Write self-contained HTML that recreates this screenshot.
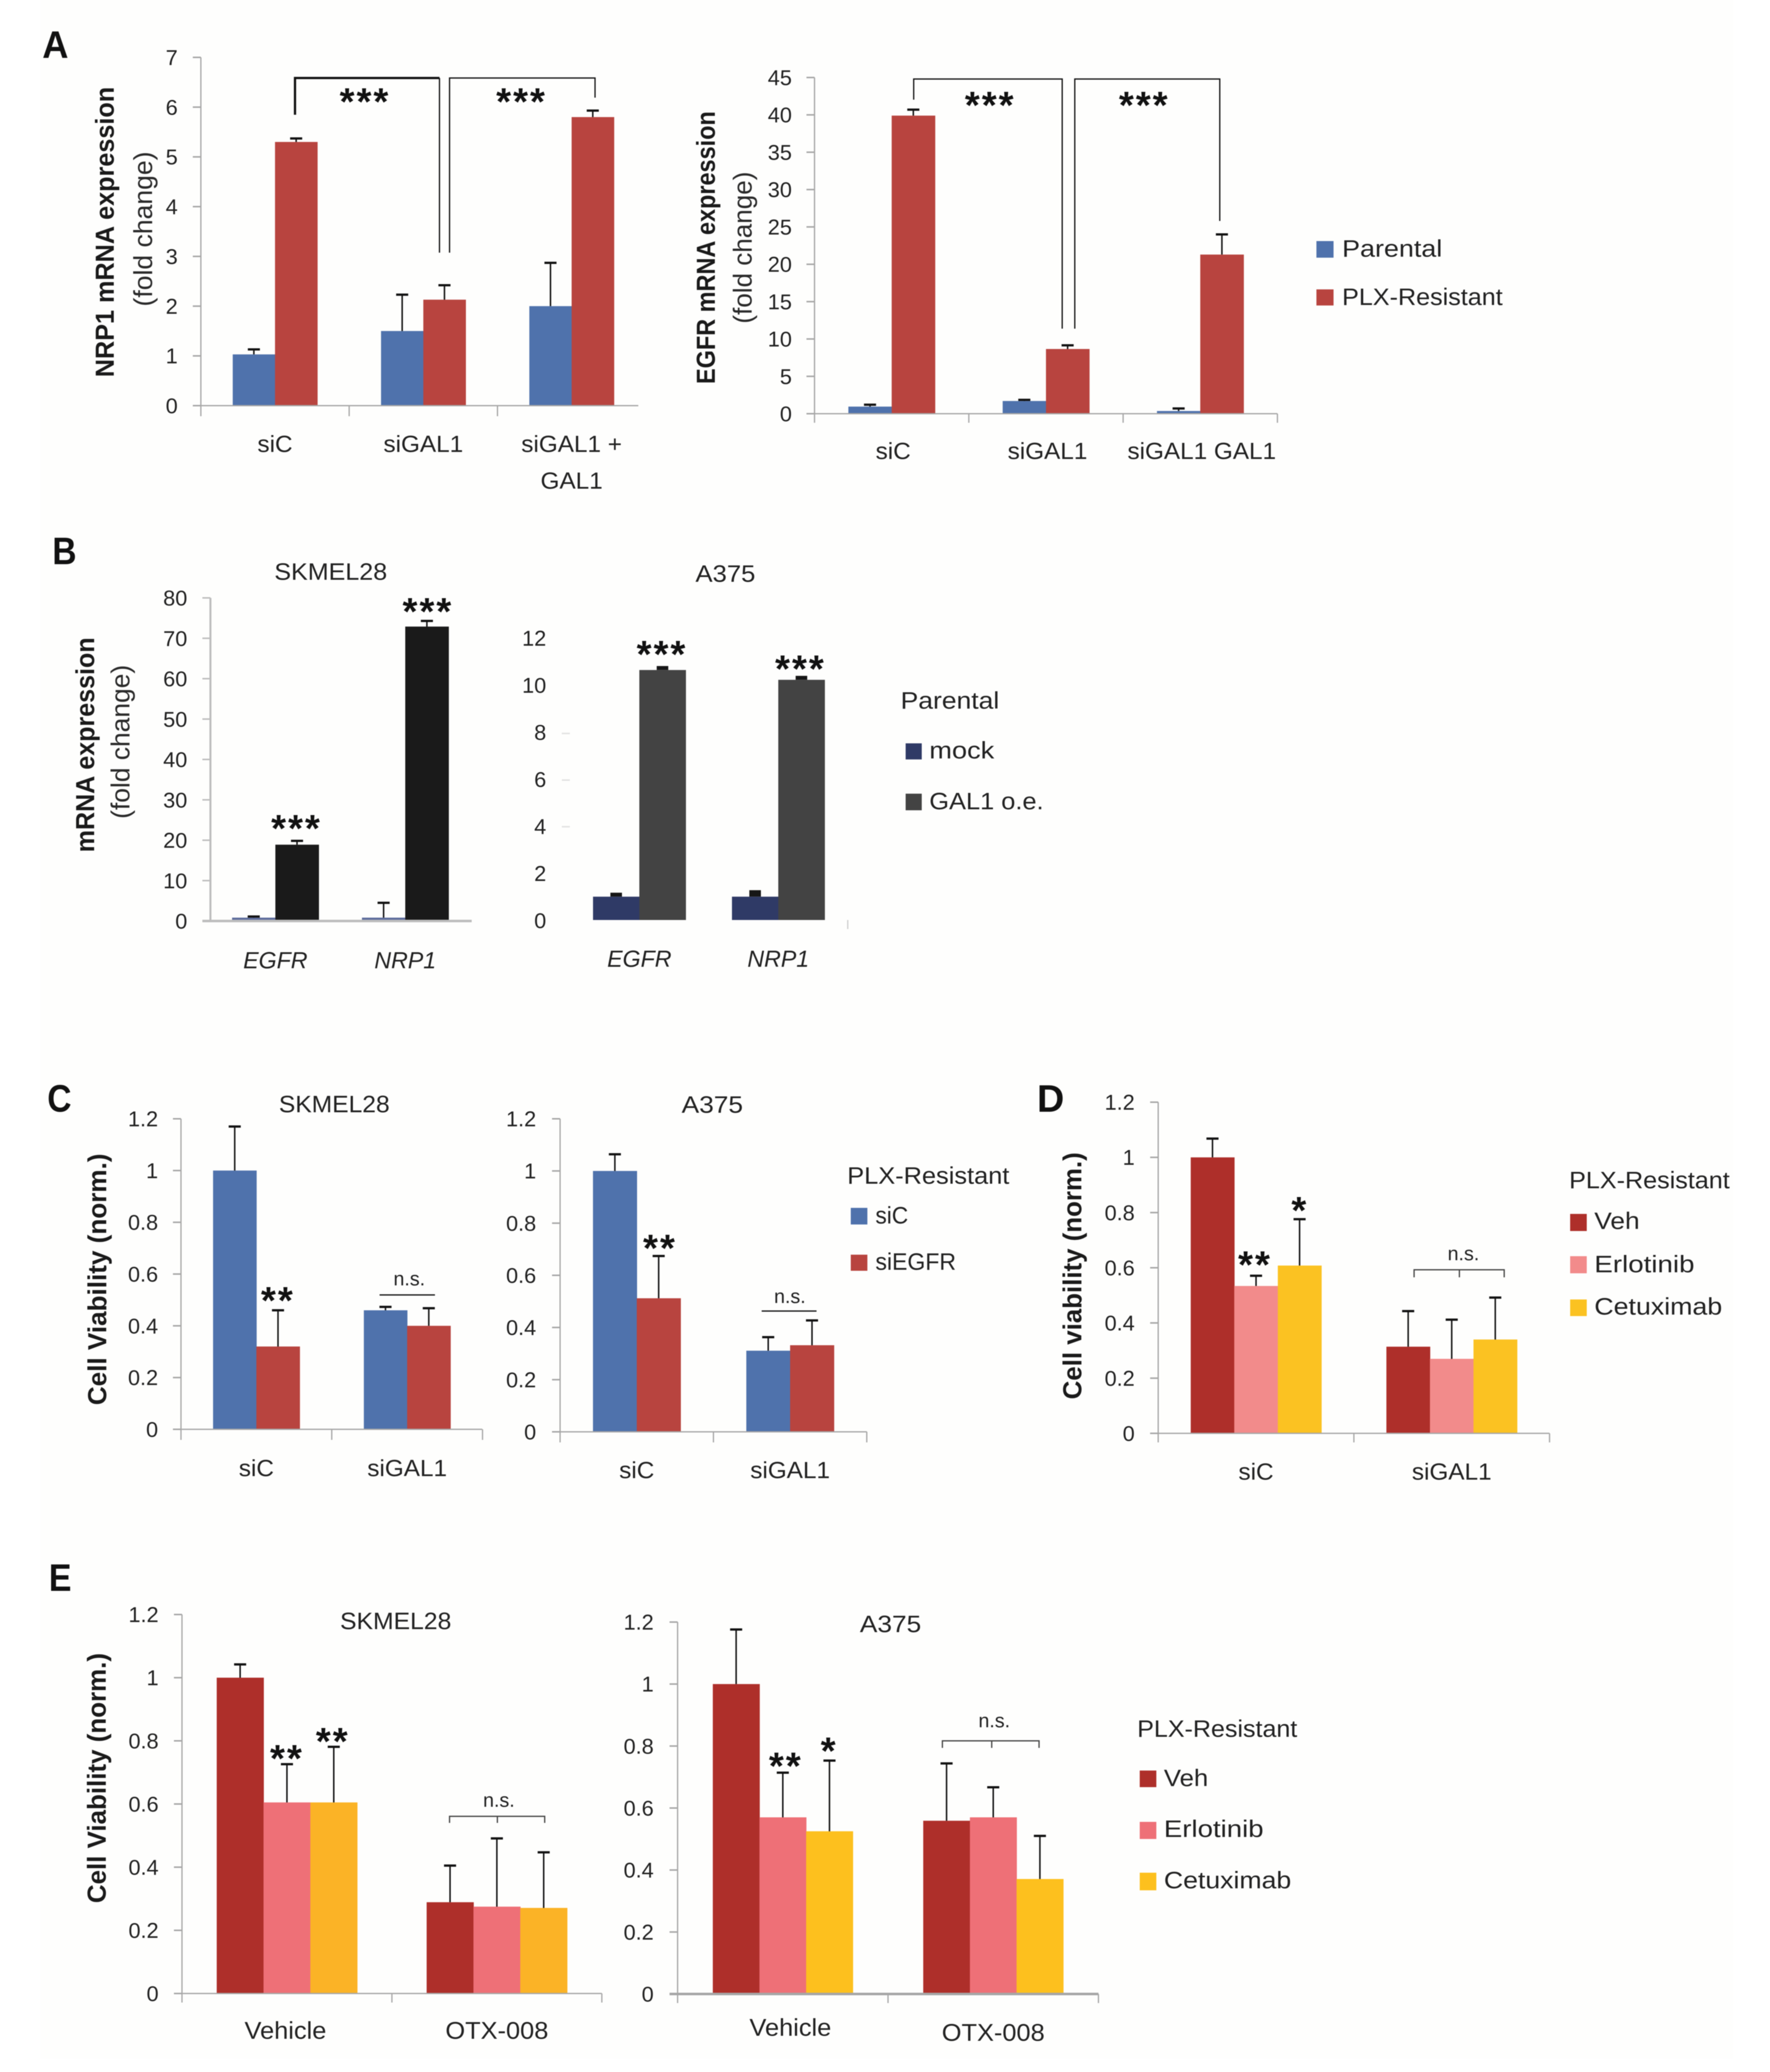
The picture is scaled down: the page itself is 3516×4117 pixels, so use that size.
<!DOCTYPE html>
<html lang="en">
<head>
<meta charset="utf-8">
<title>Cell viability and mRNA expression panels</title>
<style>
html,body{margin:0;padding:0;background:#ffffff;}
svg{display:block;filter:blur(0.9px);}
text{font-family:"Liberation Sans",sans-serif;fill:#222;}
.letter{font-size:76px;font-weight:bold;fill:#111;}
.yb{font-size:52px;font-weight:bold;fill:#1a1a1a;text-anchor:middle;}
.yn{font-size:52px;text-anchor:middle;fill:#2a2a2a;}
.title{font-size:47px;text-anchor:middle;}
.leg{font-size:47px;}
.star{font-size:76px;font-weight:bold;text-anchor:middle;fill:#111;letter-spacing:4px;}
.ns{font-size:39px;text-anchor:middle;}
.br{fill:none;stroke:#111;stroke-width:2.5;}
.brg{fill:none;stroke:#444;stroke-width:2.5;}
</style>
</head>
<body>
<svg id="fig" xmlns="http://www.w3.org/2000/svg" width="3516" height="4117" viewBox="0 0 3516 4117">
<rect x="0" y="0" width="3516" height="4117" fill="#ffffff"/>
<rect x="80" y="0" width="3363" height="4091" fill="#fefefd"/>

<!-- Panel letters -->
<text class="letter" x="84" y="115" textLength="52" lengthAdjust="spacingAndGlyphs">A</text>
<text class="letter" x="104" y="1121" textLength="48" lengthAdjust="spacingAndGlyphs">B</text>
<text class="letter" x="94" y="2209" textLength="48" lengthAdjust="spacingAndGlyphs">C</text>
<text class="letter" x="2060" y="2209" textLength="54" lengthAdjust="spacingAndGlyphs">D</text>
<text class="letter" x="97" y="3161" textLength="45" lengthAdjust="spacingAndGlyphs">E</text>

<!-- Y axis titles -->
<text class="yb" transform="translate(226,461) rotate(-90)" textLength="577" lengthAdjust="spacingAndGlyphs">NRP1 mRNA expression</text>
<text class="yn" transform="translate(302,455) rotate(-90)" textLength="308" lengthAdjust="spacingAndGlyphs">(fold change)</text>
<text class="yb" transform="translate(1420,492) rotate(-90)" textLength="542" lengthAdjust="spacingAndGlyphs">EGFR mRNA expression</text>
<text class="yn" transform="translate(1493,492) rotate(-90)" textLength="302" lengthAdjust="spacingAndGlyphs">(fold change)</text>
<text class="yb" transform="translate(187,1480) rotate(-90)" textLength="427" lengthAdjust="spacingAndGlyphs">mRNA expression</text>
<text class="yn" transform="translate(257,1474) rotate(-90)" textLength="306" lengthAdjust="spacingAndGlyphs">(fold change)</text>
<text class="yb" transform="translate(211,2542) rotate(-90)" textLength="500" lengthAdjust="spacingAndGlyphs">Cell Viability (norm.)</text>
<text class="yb" transform="translate(2148,2535) rotate(-90)" textLength="491" lengthAdjust="spacingAndGlyphs">Cell viability (norm.)</text>
<text class="yb" transform="translate(210,3533) rotate(-90)" textLength="497" lengthAdjust="spacingAndGlyphs">Cell Viability (norm.)</text>

<!-- Chart titles -->
<text class="title" x="657" y="1152" textLength="224" lengthAdjust="spacingAndGlyphs">SKMEL28</text>
<text class="title" x="1441" y="1156" textLength="119" lengthAdjust="spacingAndGlyphs">A375</text>
<text class="title" x="664" y="2210" textLength="220" lengthAdjust="spacingAndGlyphs">SKMEL28</text>
<text class="title" x="1415" y="2211" textLength="122" lengthAdjust="spacingAndGlyphs">A375</text>
<text class="title" x="786" y="3237" textLength="221" lengthAdjust="spacingAndGlyphs">SKMEL28</text>
<text class="title" x="1769" y="3243" textLength="122" lengthAdjust="spacingAndGlyphs">A375</text>

<g id="marks"></g>

<!-- Significance brackets panel A -->
<path class="br" style="stroke-width:4.5" d="M586 228V155H873"/>
<path class="br" d="M873 155V502"/>
<path class="br" d="M893 502V155H1182V194"/>
<text class="star" x="725" y="228">***</text>
<text class="star" x="1036" y="228">***</text>
<path class="br" d="M1815 198V157H2110V653"/>
<path class="br" d="M2135 653V157H2423V439"/>
<text class="star" x="1967" y="235">***</text>
<text class="star" x="2273" y="235">***</text>

<!-- Panel B stars -->
<text class="star" x="589" y="1672">***</text>
<text class="star" x="850" y="1241">***</text>
<text class="star" x="1315" y="1326">***</text>
<text class="star" x="1590" y="1355">***</text>

<!-- Panel C annotations -->
<text class="star" x="552" y="2610">**</text>
<text class="ns" x="813" y="2554">n.s.</text>
<path class="br" d="M754 2573H864"/>
<text class="star" x="1311" y="2506">**</text>
<text class="ns" x="1569" y="2589">n.s.</text>
<path class="br" d="M1513 2605H1622"/>

<!-- Panel D annotations -->
<text class="star" x="2493" y="2539">**</text>
<text class="star" x="2582" y="2431">*</text>
<text class="ns" x="2907" y="2504">n.s.</text>
<path class="brg" d="M2809 2538V2523H2988V2538M2899 2523V2538"/>

<!-- Panel E annotations -->
<text class="star" x="570" y="3520">**</text>
<text class="star" x="661" y="3486">**</text>
<text class="ns" x="991" y="3590">n.s.</text>
<path class="brg" d="M893 3622V3609H1082V3622M988 3609V3622"/>
<text class="star" x="1561" y="3535">**</text>
<text class="star" x="1647" y="3505">*</text>
<text class="ns" x="1975" y="3432">n.s.</text>
<path class="brg" d="M1872 3473V3459H2064V3473M1970 3459V3473"/>

<!-- Legends -->
<g>
<rect x="2615" y="479" width="34" height="33" fill="#4f72ac"/>
<text class="leg" x="2666" y="510" textLength="199" lengthAdjust="spacingAndGlyphs">Parental</text>
<rect x="2615" y="575" width="34" height="32" fill="#b8443f"/>
<text class="leg" x="2666" y="606" textLength="319" lengthAdjust="spacingAndGlyphs">PLX-Resistant</text>
</g>
<g>
<text class="leg" x="1789" y="1408" textLength="196" lengthAdjust="spacingAndGlyphs">Parental</text>
<rect x="1799" y="1477" width="32" height="32" fill="#2f3a66"/>
<text class="leg" x="1846" y="1507" textLength="129" lengthAdjust="spacingAndGlyphs">mock</text>
<rect x="1799" y="1577" width="32" height="33" fill="#434343"/>
<text class="leg" x="1846" y="1608" textLength="227" lengthAdjust="spacingAndGlyphs">GAL1 o.e.</text>
</g>
<g>
<text class="leg" x="1683" y="2352" textLength="322" lengthAdjust="spacingAndGlyphs">PLX-Resistant</text>
<rect x="1690" y="2400" width="33" height="33" fill="#4f72ac"/>
<text class="leg" x="1739" y="2431" textLength="65" lengthAdjust="spacingAndGlyphs">siC</text>
<rect x="1690" y="2493" width="33" height="32" fill="#b8443f"/>
<text class="leg" x="1739" y="2523" textLength="160" lengthAdjust="spacingAndGlyphs">siEGFR</text>
</g>
<g>
<text class="leg" x="3117" y="2361" textLength="319" lengthAdjust="spacingAndGlyphs">PLX-Resistant</text>
<rect x="3119" y="2412" width="33" height="34" fill="#ae2f2a"/>
<text class="leg" x="3167" y="2442" textLength="90" lengthAdjust="spacingAndGlyphs">Veh</text>
<rect x="3119" y="2496" width="33" height="34" fill="#f28b8b"/>
<text class="leg" x="3167" y="2528" textLength="199" lengthAdjust="spacingAndGlyphs">Erlotinib</text>
<rect x="3119" y="2582" width="33" height="33" fill="#fbc222"/>
<text class="leg" x="3167" y="2612" textLength="254" lengthAdjust="spacingAndGlyphs">Cetuximab</text>
</g>
<g>
<text class="leg" x="2259" y="3451" textLength="318" lengthAdjust="spacingAndGlyphs">PLX-Resistant</text>
<rect x="2264" y="3518" width="33" height="33" fill="#ae2f2a"/>
<text class="leg" x="2312" y="3549" textLength="88" lengthAdjust="spacingAndGlyphs">Veh</text>
<rect x="2264" y="3620" width="33" height="34" fill="#ee7077"/>
<text class="leg" x="2312" y="3650" textLength="198" lengthAdjust="spacingAndGlyphs">Erlotinib</text>
<rect x="2264" y="3721" width="33" height="35" fill="#fdc01e"/>
<text class="leg" x="2312" y="3752" textLength="253" lengthAdjust="spacingAndGlyphs">Cetuximab</text>
</g>
</svg>

<script>
// Panel A, NRP1
const a1Categories = ['siC', 'siGAL1', 'siGAL1 +\nGAL1'];
const a1Ticks = ['0', '1', '2', '3', '4', '5', '6', '7'];
const a1Parental = [1.03, 1.5, 2.0];
const a1ParentalErr = [0.10, 0.73, 0.87];
const a1Resistant = [5.3, 2.13, 5.8];
const a1ResistantErr = [0.07, 0.29, 0.13];
// Panel A, EGFR
const a2Categories = ['siC', 'siGAL1', 'siGAL1 GAL1'];
const a2Ticks = ['0', '5', '10', '15', '20', '25', '30', '35', '40', '45'];
const a2Parental = [0.95, 1.7, 0.36];
const a2ParentalErr = [0.25, 0.15, 0.34];
const a2Resistant = [39.9, 8.66, 21.3];
const a2ResistantErr = [0.8, 0.49, 2.7];
// Panel B, SKMEL28
const b1Categories = ['EGFR', 'NRP1'];
const b1Ticks = ['0', '10', '20', '30', '40', '50', '60', '70', '80'];
const b1Mock = [0.83, 0.83];
const b1MockErr = [0.27, 3.67];
const b1Gal = [18.9, 72.9];
const b1GalErr = [0.95, 1.4];
// Panel B, A375
const b2Categories = ['EGFR', 'NRP1'];
const b2Ticks = ['0', '2', '4', '6', '8', '10', '12'];
const b2Mock = [1, 1];
const b2MockErr = [0.17, 0.28];
const b2Gal = [10.72, 10.3];
const b2GalErr = [0.17, 0.17];
// Panel C, SKMEL28
const c1Categories = ['siC', 'siGAL1'];
const c1Ticks = ['0', '0.2', '0.4', '0.6', '0.8', '1', '1.2'];
const c1SiC = [1, 0.46];
const c1SiCErr = [0.17, 0.013];
const c1SiEGFR = [0.32, 0.4];
const c1SiEGFRErr = [0.14, 0.068];
// Panel C, A375
const c2Categories = ['siC', 'siGAL1'];
const c2Ticks = ['0', '0.2', '0.4', '0.6', '0.8', '1', '1.2'];
const c2SiC = [1, 0.311];
const c2SiCErr = [0.064, 0.052];
const c2SiEGFR = [0.512, 0.332];
const c2SiEGFRErr = [0.162, 0.095];
// Panel D
const dCategories = ['siC', 'siGAL1'];
const dTicks = ['0', '0.2', '0.4', '0.6', '0.8', '1', '1.2'];
const dVeh = [1, 0.314];
const dVehErr = [0.068, 0.129];
const dErl = [0.534, 0.27];
const dErlErr = [0.037, 0.142];
const dCet = [0.608, 0.34];
const dCetErr = [0.168, 0.152];
// Panel E, SKMEL28
const e1Categories = ['Vehicle', 'OTX-008'];
const e1Ticks = ['0', '0.2', '0.4', '0.6', '0.8', '1', '1.2'];
const e1Veh = [1, 0.289];
const e1VehErr = [0.042, 0.116];
const e1Erl = [0.605, 0.275];
const e1ErlErr = [0.121, 0.216];
const e1Cet = [0.605, 0.271];
const e1CetErr = [0.176, 0.176];
// Panel E, A375
const e2Categories = ['Vehicle', 'OTX-008'];
const e2Ticks = ['0', '0.2', '0.4', '0.6', '0.8', '1', '1.2'];
const e2Veh = [1, 0.559];
const e2VehErr = [0.176, 0.185];
const e2Erl = [0.57, 0.57];
const e2ErlErr = [0.144, 0.097];
const e2Cet = [0.525, 0.371];
const e2CetErr = [0.228, 0.139];

const NS = 'http://www.w3.org/2000/svg';

function make(parent, tag, name, props) {
  const el = document.createElementNS(NS, tag);
  
  
  for (const k in props) el.setAttribute(k, props[k]);
  parent.appendChild(el);
  return el;
}

function line(parent, name, x1, y1, x2, y2, color, width) {
  return make(parent, 'line', name, {x1: x1, y1: y1, x2: x2, y2: y2, stroke: color, 'stroke-width': width});
}

function drawChart(cfg, categories, ticks, series) {
  const root = document.getElementById('marks');
  const g = make(root, 'g', cfg.id + '-chart', {});
  const maxV = parseFloat(ticks[ticks.length - 1]);
  const yPos = function (v) { return cfg.y0 - v / maxV * (cfg.y0 - cfg.yTop); };
  const labY0 = cfg.labelY0 || cfg.y0;
  const labTop = cfg.labelTop || cfg.yTop;
  const labelPos = function (v) { return labY0 - v / maxV * (labY0 - labTop); };
  const groupX = function (i) { return cfg.x0 + cfg.band * (i + 0.5); };
  const axisColor = cfg.axisColor || '#a6a6a6';
  const tickColor = cfg.tickColor || axisColor;
  const tickLen = 16;
  const catSize = cfg.catSize || 46;
  const catScale = cfg.catScale || 1.05;

  if (!cfg.hideAxes) {
    line(g, cfg.id + '-y-axis', cfg.x0, cfg.yTop, cfg.x0, cfg.y0, axisColor, cfg.yAxisWidth || 2.5);
  }

  ticks.forEach(function (t) {
    const v = parseFloat(t);
    const y = yPos(v);
    const showMark = !cfg.hideAxes || (cfg.faintTicks && cfg.faintTicks.indexOf(t) >= 0);
    if (showMark) {
      line(g, cfg.id + '-y-tick', cfg.x0 - tickLen, y, cfg.x0, y, tickColor, 3);
    }
    const lab = make(g, 'text', cfg.id + '-y-tick-label', {
      'text-anchor': 'end',
      'font-size': 43,
      x: cfg.tickRight,
      y: labelPos(v) + 15
    });
    lab.textContent = t;
  });

  series.forEach(function (s, j) {
    s.values.forEach(function (v, i) {
      const x = groupX(i) - series.length * cfg.barW / 2 + j * cfg.barW;
      const y = yPos(v);
      make(g, 'rect', cfg.id + '-bar', {x: x, y: y, width: cfg.barW + 0.6, height: cfg.y0 - y, fill: s.color});
    });
  });

  if (!cfg.hideAxes) {
    line(g, cfg.id + '-x-axis', cfg.x0 - tickLen, cfg.y0, cfg.xEnd, cfg.y0, axisColor, cfg.xAxisWidth || 2.5);
  }
  if (cfg.xTickBottom) {
    for (let i = 0; i <= categories.length; i++) {
      const tx = cfg.x0 + cfg.band * i;
      if (tx <= cfg.xEnd + 1 && (!cfg.endTickOnly || i === categories.length)) {
        line(g, cfg.id + '-x-tick', tx, cfg.y0, tx, cfg.xTickBottom, axisColor, 2.5);
      }
    }
  }

  series.forEach(function (s, j) {
    s.values.forEach(function (v, i) {
      const cx = groupX(i) - series.length * cfg.barW / 2 + (j + 0.5) * cfg.barW;
      const top = yPos(v + s.errs[i]);
      const bottom = yPos(v);
      line(g, cfg.id + '-error-stem', cx, bottom, cx, top, '#161616', cfg.errStem || 3);
      if (!cfg.errStem) {
        line(g, cfg.id + '-error-cap', cx - 12, top, cx + 12, top, '#111', 4.5);
      }
    });
  });

  categories.forEach(function (c, i) {
    const baseY = Array.isArray(cfg.catY) ? cfg.catY[i] : cfg.catY;
    const dx = cfg.catDx ? cfg.catDx[i] : 0;
    c.split('\n').forEach(function (part, k) {
      const lab = make(g, 'text', cfg.id + '-category-label', {
        'text-anchor': 'middle',
        'font-size': catSize,
        'font-style': cfg.italic ? 'italic' : 'normal',
        transform: 'translate(' + (groupX(i) + dx) + ',' + (baseY + k * 73) + ') scale(' + catScale + ',1)'
      });
      lab.textContent = part;
    });
  });
}

const BLUE = '#4f72ac', RED = '#b8443f';

drawChart({id: 'a1', x0: 399, y0: 806, yTop: 114, xEnd: 1268, band: 294.6, barW: 84, xTickBottom: 827, tickRight: 353, catY: 898},
  a1Categories, a1Ticks, [
    {values: a1Parental, errs: a1ParentalErr, color: BLUE},
    {values: a1Resistant, errs: a1ResistantErr, color: RED}
  ]);

drawChart({id: 'a2', x0: 1618, y0: 822, yTop: 154, xEnd: 2537.5, band: 306.5, barW: 86, xTickBottom: 840, tickRight: 1573, catY: 912, catDx: [3, 3, 3]},
  a2Categories, a2Ticks, [
    {values: a2Parental, errs: a2ParentalErr, color: BLUE},
    {values: a2Resistant, errs: a2ResistantErr, color: RED}
  ]);

drawChart({id: 'b1', x0: 418, y0: 1830, yTop: 1188, xEnd: 937, band: 258, barW: 86, tickRight: 372, catY: 1924, italic: true, catScale: 1, axisColor: '#bdbdbd', xAxisWidth: 5, yAxisWidth: 4},
  b1Categories, b1Ticks, [
    {values: b1Mock, errs: b1MockErr, color: '#5d6c9c'},
    {values: b1Gal, errs: b1GalErr, color: '#1a1a1a'}
  ]);

drawChart({id: 'b2', x0: 1132, y0: 1828, yTop: 1272, labelY0: 1829, labelTop: 1268, xEnd: 1684, band: 276, barW: 92, xTickBottom: 1846, endTickOnly: true, tickRight: 1085, catY: 1921, italic: true, catScale: 1, hideAxes: true, faintTicks: ['4', '6', '8'], tickColor: '#e2e2e2', axisColor: '#cfcfcf', errStem: 23},
  b2Categories, b2Ticks, [
    {values: b2Mock, errs: b2MockErr, color: '#2f3a66'},
    {values: b2Gal, errs: b2GalErr, color: '#434343'}
  ]);

drawChart({id: 'c1', x0: 359.5, y0: 2840, yTop: 2223, xEnd: 958, band: 299.5, barW: 86, xTickBottom: 2861, tickRight: 314, catY: 2933},
  c1Categories, c1Ticks, [
    {values: c1SiC, errs: c1SiCErr, color: BLUE},
    {values: c1SiEGFR, errs: c1SiEGFRErr, color: RED}
  ]);

drawChart({id: 'c2', x0: 1112.6, y0: 2845, yTop: 2223, xEnd: 1722, band: 304.6, barW: 87, xTickBottom: 2866, tickRight: 1065, catY: 2937},
  c2Categories, c2Ticks, [
    {values: c2SiC, errs: c2SiCErr, color: BLUE},
    {values: c2SiEGFR, errs: c2SiEGFRErr, color: RED}
  ]);

drawChart({id: 'd', x0: 2300.7, y0: 2848, yTop: 2190, xEnd: 3078, band: 388.7, barW: 86.5, xTickBottom: 2866, tickRight: 2254, catY: 2940},
  dCategories, dTicks, [
    {values: dVeh, errs: dVehErr, color: '#ae2f2a'},
    {values: dErl, errs: dErlErr, color: '#f28b8b'},
    {values: dCet, errs: dCetErr, color: '#fbc222'}
  ]);

drawChart({id: 'e1', x0: 361.5, y0: 3961, yTop: 3208, xEnd: 1195.6, band: 417, barW: 93, xTickBottom: 3979, tickRight: 315, catY: 4051, catSize: 48, catDx: [-3, 0]},
  e1Categories, e1Ticks, [
    {values: e1Veh, errs: e1VehErr, color: '#ae2f2a'},
    {values: e1Erl, errs: e1ErlErr, color: '#ee7077'},
    {values: e1Cet, errs: e1CetErr, color: '#fbb326'}
  ]);

drawChart({id: 'e2', x0: 1346, y0: 3962, yTop: 3223, xEnd: 2182, band: 418, barW: 92.7, xTickBottom: 3980, tickRight: 1298.5, catY: [4045, 4055], catDx: [15, 0], catSize: 48, xAxisWidth: 5},
  e2Categories, e2Ticks, [
    {values: e2Veh, errs: e2VehErr, color: '#ae2f2a'},
    {values: e2Erl, errs: e2ErlErr, color: '#ee7077'},
    {values: e2Cet, errs: e2CetErr, color: '#fdc01e'}
  ]);
</script>
</body>
</html>
